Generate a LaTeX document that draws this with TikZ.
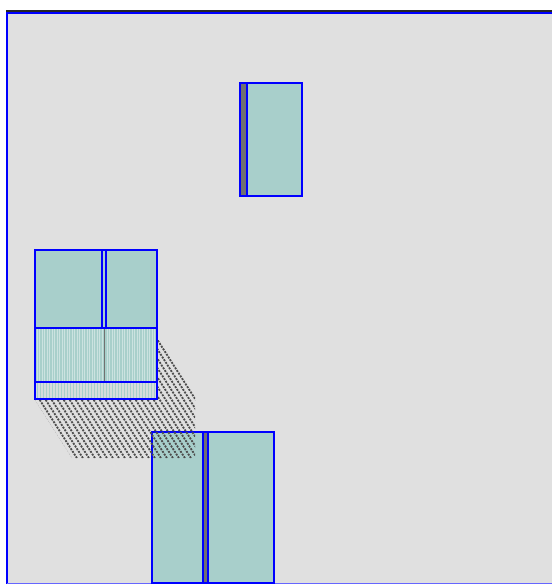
\documentclass[tikz,border=0pt]{standalone}
\definecolor{floorgray}{HTML}{E0E0E0}
\definecolor{doorteal}{HTML}{A8CFCB}
\definecolor{hingegray}{HTML}{707070}
\begin{document}
\begin{tikzpicture}[
            x=1pt, y=-1pt,
            panel/.style={draw=blue, line width=1.4pt, fill=doorteal},
            hinge/.style={draw=blue, line width=1.2pt, fill=hingegray},
            hatch/.style={black!70, line width=1.8pt, dash pattern=on 2pt off 1.2pt}
            ]
            \useasboundingbox (0,0) rectangle (552,584);

            % room
            \fill[floorgray] (7,12) rectangle (552,584);
            \draw[black!85, line width=1.4pt] (6,11) -- (552,11);
            \draw[blue, line width=1.6pt] (7,584) -- (7,13) -- (552,13);
            \draw[blue!60, line width=1pt] (7,583.5) -- (552,583.5);

            % bottom cabinet
            \draw[panel] (152,432) rectangle (203,583);
            \draw[hinge] (203,432) rectangle (208,583);
            \draw[panel] (208,432) rectangle (274,583);

            % top cabinet
            \draw[panel] (240,83) rectangle (302,196);
            \draw[hinge] (240,83) rectangle (247,196);

            % left unit, doors
            \draw[panel] (35,250) rectangle (102,328);
            \draw[panel] (102,250) rectangle (106,328);
            \draw[panel] (106,250) rectangle (157,328);

            % left unit, shelf and base
            \fill[doorteal] (35,328) rectangle (157,382);
            \foreach \x in {37,39.5,...,156}
                \draw[white!40!doorteal, line width=0.4pt] (\x,329) -- (\x,381);
            \draw[hingegray, line width=1pt] (104,328) -- (104,382);
            \fill[floorgray!80!doorteal] (35,382) rectangle (157,399);
            \foreach \x in {37,40,...,156}
                \draw[doorteal, line width=0.8pt] (\x,383) -- (\x,398);
            \draw[blue, line width=1.4pt] (35,328) rectangle (157,382);
            \draw[blue, line width=1.4pt] (35,382) rectangle (157,399);

            % shadow
            \begin{scope}
                \clip (158,336) -- (195,393) -- (195,458) -- (72,458) -- (35,400) -- (158,400) -- cycle;
                \foreach \x in {-150,-144,...,200}
                    \draw[hatch] (\x,300) -- ++(120,188);
            \end{scope}
\end{tikzpicture}
\end{document}
